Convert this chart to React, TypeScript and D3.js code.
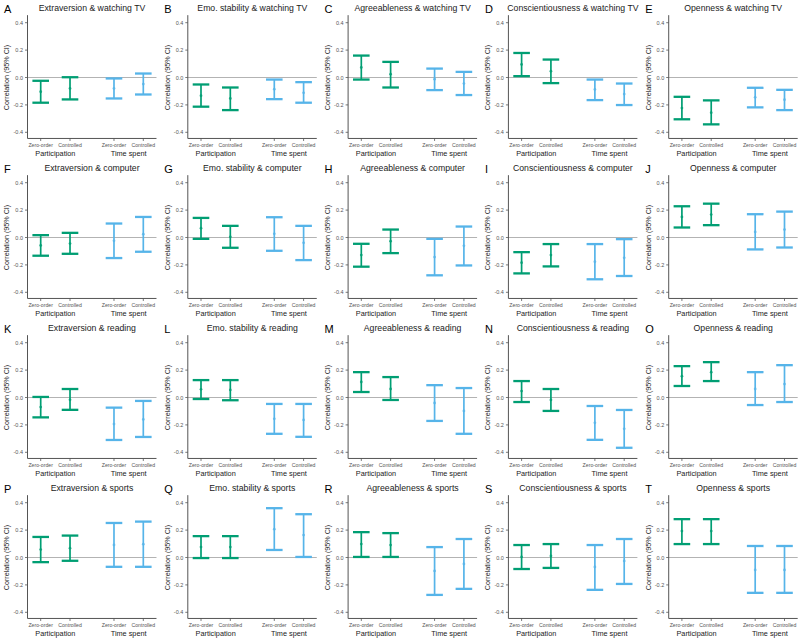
import React from "react";
import * as d3 from "d3";

const traits = ["Extraversion", "Emo. stability", "Agreeableness", "Conscientiousness", "Openness"];
const activities = ["watching TV", "computer", "reading", "sports"];
const letters = ["A","B","C","D","E","F","G","H","I","J","K","L","M","N","O","P","Q","R","S","T"];
const xTickLabels = ["Zero-order", "Controlled", "Zero-order", "Controlled"];
const groupLabels = ["Participation", "Time spent"];
const yTicks = [-0.4, -0.2, 0, 0.2, 0.4];
const xPositions = [1, 2, 3.5, 4.5];

// per panel (A..T): [P zero-order, P controlled, TS zero-order, TS controlled]
const estimate = [
  [-0.104, -0.08, -0.08, -0.048],
  [-0.133, -0.153, -0.085, -0.112],
  [0.073, 0.024, -0.012, -0.044],
  [0.095, 0.046, -0.087, -0.121],
  [-0.223, -0.257, -0.145, -0.162],
  [-0.058, -0.044, -0.024, 0.024],
  [0.068, 0.005, 0.027, -0.039],
  [-0.128, -0.027, -0.143, -0.061],
  [-0.184, -0.128, -0.177, -0.148],
  [0.15, 0.167, 0.041, 0.058],
  [-0.07, -0.017, -0.194, -0.16],
  [0.06, 0.055, -0.156, -0.164],
  [0.113, 0.062, -0.04, -0.098],
  [0.047, -0.018, -0.185, -0.229],
  [0.156, 0.185, 0.062, 0.098],
  [0.058, 0.068, 0.092, 0.097],
  [0.076, 0.076, 0.207, 0.164],
  [0.098, 0.091, -0.098, -0.047],
  [0.004, 0.011, -0.069, -0.025],
  [0.193, 0.193, -0.091, -0.091],
];
const lower = [
  [-0.184, -0.16, -0.153, -0.124],
  [-0.213, -0.238, -0.158, -0.184],
  [-0.015, -0.073, -0.092, -0.128],
  [0.01, -0.041, -0.165, -0.201],
  [-0.305, -0.342, -0.218, -0.238],
  [-0.133, -0.119, -0.15, -0.104],
  [-0.01, -0.075, -0.097, -0.165],
  [-0.213, -0.114, -0.276, -0.204],
  [-0.262, -0.211, -0.305, -0.281],
  [0.073, 0.09, -0.087, -0.073],
  [-0.145, -0.09, -0.31, -0.288],
  [-0.011, -0.02, -0.265, -0.287],
  [0.04, -0.018, -0.171, -0.265],
  [-0.033, -0.098, -0.309, -0.367],
  [0.084, 0.12, -0.055, -0.033],
  [-0.034, -0.024, -0.068, -0.068],
  [-0.004, -0.004, 0.055, 0.004],
  [0.004, 0.004, -0.273, -0.229],
  [-0.084, -0.076, -0.236, -0.193],
  [0.098, 0.098, -0.258, -0.258],
];
const upper = [
  [-0.024, 0.002, -0.007, 0.029],
  [-0.051, -0.073, -0.015, -0.034],
  [0.16, 0.114, 0.065, 0.041],
  [0.179, 0.131, -0.015, -0.044],
  [-0.141, -0.167, -0.075, -0.09],
  [0.017, 0.034, 0.102, 0.15],
  [0.143, 0.085, 0.148, 0.085],
  [-0.046, 0.058, -0.01, 0.08],
  [-0.107, -0.048, -0.048, -0.012],
  [0.228, 0.247, 0.17, 0.189],
  [0.004, 0.062, -0.074, -0.025],
  [0.127, 0.127, -0.047, -0.047],
  [0.185, 0.149, 0.09, 0.069],
  [0.12, 0.062, -0.062, -0.091],
  [0.229, 0.258, 0.185, 0.236],
  [0.15, 0.16, 0.252, 0.262],
  [0.156, 0.156, 0.36, 0.316],
  [0.185, 0.178, 0.076, 0.135],
  [0.091, 0.098, 0.091, 0.135],
  [0.28, 0.28, 0.084, 0.084],
];
const barColors = ["#009E73", "#009E73", "#56B4E9", "#56B4E9"];

const W = 800;
const H = 641;
const COLW = 160.3;
const ROWH = 160;
const FONT = "'Liberation Sans', Arial, sans-serif";

const y = d3.scaleLinear().domain([-0.4, 0.4]).range([132.3, 22.7]);
const x = d3.scaleLinear().domain([1, 4.5]).range([40.7, 143.3]);
const axisLeftX = x(0.55);
const axisRightX = x(4.95);
const axisBottomY = y(-0.445);
const axisTopY = y(0.455);
const capHalf = 8.3;

function Panel({ idx }: { idx: number }) {
  const row = Math.floor(idx / 5);
  const col = idx % 5;
  const title = `${traits[col]} & ${activities[row]}`;
  return (
    <g transform={`translate(${col * COLW},${row * ROWH})`}>
      <text x={4} y={12.5} fontSize={11} fill="#000" fontFamily={FONT}>{letters[idx]}</text>
      <text x={(axisLeftX + axisRightX) / 2} y={11} fontSize={8.7} fill="#1a1a1a" textAnchor="middle" fontFamily={FONT}>{title}</text>
      <line x1={axisLeftX} x2={axisRightX} y1={y(0)} y2={y(0)} stroke="#b3b3b3" strokeWidth={1} />
      <line x1={axisLeftX} x2={axisLeftX} y1={axisTopY} y2={axisBottomY} stroke="#555" strokeWidth={1} />
      {yTicks.map((t) => (
        <g key={t}>
          <line x1={axisLeftX - 2.5} x2={axisLeftX} y1={y(t)} y2={y(t)} stroke="#555" strokeWidth={0.8} />
          <text x={axisLeftX - 4.5} y={y(t) + 2} fontSize={5.5} fill="#555" textAnchor="end" fontFamily={FONT}>
            {d3.format(".1f")(t).replace("−", "-")}
          </text>
        </g>
      ))}
      <text
        transform={`translate(9.4,${y(0)}) rotate(-90)`}
        fontSize={7.2}
        textAnchor="middle"
        fill="#1a1a1a"
        fontFamily={FONT}
      >
        Correlation (95% CI)
      </text>
      <line x1={axisLeftX} x2={axisRightX} y1={axisBottomY} y2={axisBottomY} stroke="#555" strokeWidth={1} />
      {xPositions.map((p, i) => (
        <g key={i}>
          <line x1={x(p)} x2={x(p)} y1={axisBottomY} y2={axisBottomY + 2.5} stroke="#555" strokeWidth={0.8} />
          <text x={x(p)} y={axisBottomY + 8.3} fontSize={5.2} fill="#555" textAnchor="middle" fontFamily={FONT}>
            {xTickLabels[i]}
          </text>
        </g>
      ))}
      <text x={(x(xPositions[0]) + x(xPositions[1])) / 2} y={axisBottomY + 17.8} fontSize={7.3} fill="#1a1a1a" textAnchor="middle" fontFamily={FONT}>
        {groupLabels[0]}
      </text>
      <text x={(x(xPositions[2]) + x(xPositions[3])) / 2} y={axisBottomY + 17.8} fontSize={7.3} fill="#1a1a1a" textAnchor="middle" fontFamily={FONT}>
        {groupLabels[1]}
      </text>
      {xPositions.map((p, i) => {
        const cx = x(p);
        const c = barColors[i];
        const lo = lower[idx][i];
        const hi = upper[idx][i];
        const est = estimate[idx][i];
        return (
          <g key={`b${i}`}>
            <line x1={cx} x2={cx} y1={y(hi)} y2={y(lo)} stroke={c} strokeWidth={1.7} />
            <line x1={cx - capHalf} x2={cx + capHalf} y1={y(hi)} y2={y(hi)} stroke={c} strokeWidth={2.3} />
            <line x1={cx - capHalf} x2={cx + capHalf} y1={y(lo)} y2={y(lo)} stroke={c} strokeWidth={2.3} />
            <circle cx={cx} cy={y(est)} r={1.4} fill={c} opacity={0.8} />
          </g>
        );
      })}
    </g>
  );
}

export default function App() {
  return (
    <svg
      width={W}
      height={H}
      viewBox={`0 0 ${W} ${H}`}
      style={{ position: "absolute", left: 0, top: 0, background: "#fff" }}
    >
      <rect width={W} height={H} fill="#fff" />
      {letters.map((_, i) => (
        <Panel key={i} idx={i} />
      ))}
    </svg>
  );
}
